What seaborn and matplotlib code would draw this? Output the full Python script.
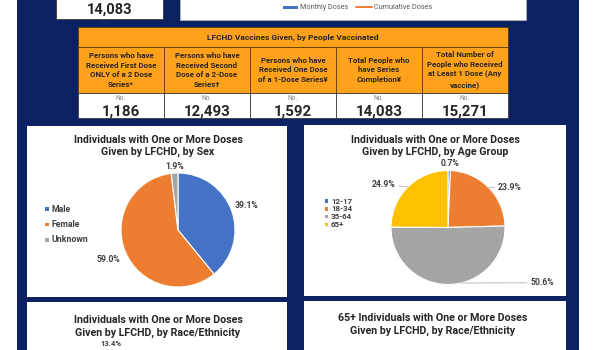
import numpy as np
import matplotlib
matplotlib.use("Agg")
import matplotlib.pyplot as plt
from matplotlib.patches import Rectangle
import seaborn as sns

# ---- data ----
top_total = "14,083"
legend_items = ["Monthly Doses", "Cumulative Doses"]

table_title = "LFCHD Vaccines Given, by People Vaccinated"
table_headers = [
    "Persons who have\nReceived First Dose\nONLY of a 2 Dose\nSeries*",
    "Persons who have\nReceived Second\nDose of a 2-Dose\nSeries\u2020",
    "Persons who have\nReceived One Dose\nof a 1-Dose Series\u00a5",
    "Total People who\nhave Series\nCompletion\u00a5",
    "Total Number of\nPeople who Received\nat Least 1 Dose (Any\nvaccine)",
]
table_values = ["1,186", "12,493", "1,592", "14,083", "15,271"]

sex_labels = ["Male", "Female", "Unknown"]
sex_pct = [39.1, 59.0, 1.9]

age_labels = ["12-17", "18-34", "35-64", "65+"]
age_pct = [0.7, 23.9, 50.6, 24.9]

race_first_label = "13.4%"

sex_title = "Individuals with One or More Doses\nGiven by LFCHD, by Sex"
age_title = "Individuals with One or More Doses\nGiven by LFCHD, by Age Group"
race_title = "Individuals with One or More Doses\nGiven by LFCHD, by Race/Ethnicity"
race65_title = "65+ Individuals with One or More Doses\nGiven by LFCHD, by Race/Ethnicity"

# ---- style ----
sns.set_theme(style="white")
plt.rcParams["font.family"] = ["Roboto", "DejaVu Sans"]

NAVY = "#0B2161"
ORANGE_TAB = "#FFA11A"
pie_colors = ["#4472C4", "#ED7D31", "#A5A5A5", "#FFC000"]
TXT = "#262626"
LBL = "#404040"

W, H = 600, 350
fig = plt.figure(figsize=(6, 3.5), dpi=100)
fig.patch.set_facecolor("white")


def box(x0, y0, x1, y1):
    return fig.add_axes([x0 / W, 1 - y1 / H, (x1 - x0) / W, (y1 - y0) / H])


# canvas in pixel units (y down)
cv = box(0, 0, W, H)
cv.set_xlim(0, W)
cv.set_ylim(H, 0)
cv.axis("off")


def rect(x0, y0, x1, y1, fc, ec="none", lw=0.0, z=1):
    cv.add_patch(Rectangle((x0, y0), x1 - x0, y1 - y0, facecolor=fc,
                           edgecolor=ec, linewidth=lw, zorder=z))


rect(17, 0, 579, 350, NAVY)

# top strip
rect(56, -2, 163, 19, "white", "#3a3a3a", 0.6, 2)
cv.text(110, 10, top_total, ha="center", va="center", fontsize=10.5,
        fontweight="bold", color=TXT, zorder=3)
rect(180, -2, 526, 20, "white", "#bfbfbf", 0.5, 2)
rect(283, 5.8, 298, 8.8, pie_colors[0], z=3)
cv.text(300, 7.4, legend_items[0], ha="left", va="center", fontsize=5.2,
        color="#595959", zorder=3)
cv.plot([356, 372], [7.4, 7.4], color=pie_colors[1], lw=1.4, zorder=3)
cv.text(374, 7.4, legend_items[1], ha="left", va="center", fontsize=5.2,
        color="#595959", zorder=3)

# table
tx0, tx1 = 78, 508
edges = np.linspace(tx0, tx1, len(table_values) + 1)
rect(tx0, 27, tx1, 47, ORANGE_TAB, "#5c3b00", 0.6, 2)
cv.text((tx0 + tx1) / 2, 37.5, table_title, ha="center", va="center",
        fontsize=6.0, fontweight="bold", color=TXT, zorder=3)
for i, (head, val) in enumerate(zip(table_headers, table_values)):
    a, b = edges[i], edges[i + 1]
    rect(a, 47, b, 93, ORANGE_TAB, "#5c3b00", 0.6, 2)
    rect(a, 93, b, 118, "white", "#3a3a3a", 0.6, 2)
    cv.text((a + b) / 2, 70, head, ha="center", va="center", fontsize=5.7,
            fontweight="bold", color=TXT, linespacing=1.45, zorder=3)
    cv.text((a + b) / 2, 98.5, "No.", ha="center", va="center", fontsize=4.8,
            color="#7f7f7f", zorder=3)
    cv.text((a + b) / 2, 111.5, val, ha="center", va="center", fontsize=10.8,
            fontweight="bold", color=TXT, zorder=3)

# white panels
rect(27, 126, 287, 297, "white", z=2)
rect(304, 125, 566, 296, "white", z=2)
rect(27, 302, 287, 352, "white", z=2)
rect(304, 301, 566, 352, "white", z=2)

cv.text(158, 146, sex_title, ha="center", va="center", fontsize=7.7,
        fontweight="bold", color=TXT, linespacing=1.3, zorder=3)
cv.text(435, 146, age_title, ha="center", va="center", fontsize=7.7,
        fontweight="bold", color=TXT, linespacing=1.3, zorder=3)
cv.text(158, 326.5, race_title, ha="center", va="center", fontsize=7.7,
        fontweight="bold", color=TXT, linespacing=1.3, zorder=3)
cv.text(433, 324.5, race65_title, ha="center", va="center", fontsize=7.7,
        fontweight="bold", color=TXT, linespacing=1.3, zorder=3)
cv.text(111, 344, race_first_label, ha="center", va="center", fontsize=5.5,
        fontweight="bold", color=LBL, zorder=3)

# legends drawn on canvas
for i, lab in enumerate(sex_labels):
    y = 209 + i * 15.5
    rect(45, y - 1.8, 48.6, y + 1.8, pie_colors[i], z=3)
    cv.text(52, y, lab, ha="left", va="center", fontsize=6.3,
            fontweight="bold", color=LBL, zorder=3)
for i, lab in enumerate(age_labels):
    y = 201 + i * 7.9
    rect(324.5, y - 1.6, 327.7, y + 1.6, pie_colors[i], z=3)
    cv.text(331, y, lab, ha="left", va="center", fontsize=5.7,
            fontweight="bold", color=LBL, zorder=3)


def mid_angles(vals):
    v = np.asarray(vals, dtype=float)
    cum = np.concatenate([[0], np.cumsum(v)])[:-1]
    return np.deg2rad(90 - 360 * (cum + v / 2) / v.sum())


# sex pie
r = 57
ax1 = box(178 - r, 230 - r, 178 + r, 230 + r)
ax1.pie(sex_pct, colors=pie_colors[:3], startangle=90, counterclock=False,
        wedgeprops=dict(edgecolor="white", linewidth=0.8))
ax1.set_xlim(-1, 1)
ax1.set_ylim(-1, 1)
ax1.axis("off")
for ang, d, p in zip(mid_angles(sex_pct), [1.27, 1.32, 1.12], sex_pct):
    ax1.text(d * np.cos(ang), d * np.sin(ang), f"{p:.1f}%", ha="center",
             va="center", fontsize=6.2, fontweight="bold", color=LBL,
             clip_on=False)

# age pie
ax2 = box(448 - r, 227.5 - r, 448 + r, 227.5 + r)
ax2.pie(age_pct, colors=pie_colors, startangle=90, counterclock=False,
        wedgeprops=dict(edgecolor="white", linewidth=0.8))
ax2.set_xlim(-1, 1)
ax2.set_ylim(-1, 1)
ax2.axis("off")
age_text_pos = [(0.03, 1.13), (1.08, 0.71), (1.65, -0.97), (-1.13, 0.76)]
leader = [False, True, True, True]
for ang, pos, p, ld in zip(mid_angles(age_pct), age_text_pos, age_pct, leader):
    if ld:
        a = ang if p < 50 else np.deg2rad(-77)
        ax2.annotate(f"{p:.1f}%", xy=(np.cos(a), np.sin(a)), xytext=pos,
                     ha="center", va="center", fontsize=6.2, fontweight="bold",
                     color=LBL, annotation_clip=False,
                     arrowprops=dict(arrowstyle="-", color="#a6a6a6", lw=0.5,
                                     shrinkA=0, shrinkB=0))
    else:
        ax2.text(pos[0], pos[1], f"{p:.1f}%", ha="center", va="center",
                 fontsize=6.2, fontweight="bold", color=LBL, clip_on=False)

fig.savefig("out.png", dpi=100, facecolor="white")
